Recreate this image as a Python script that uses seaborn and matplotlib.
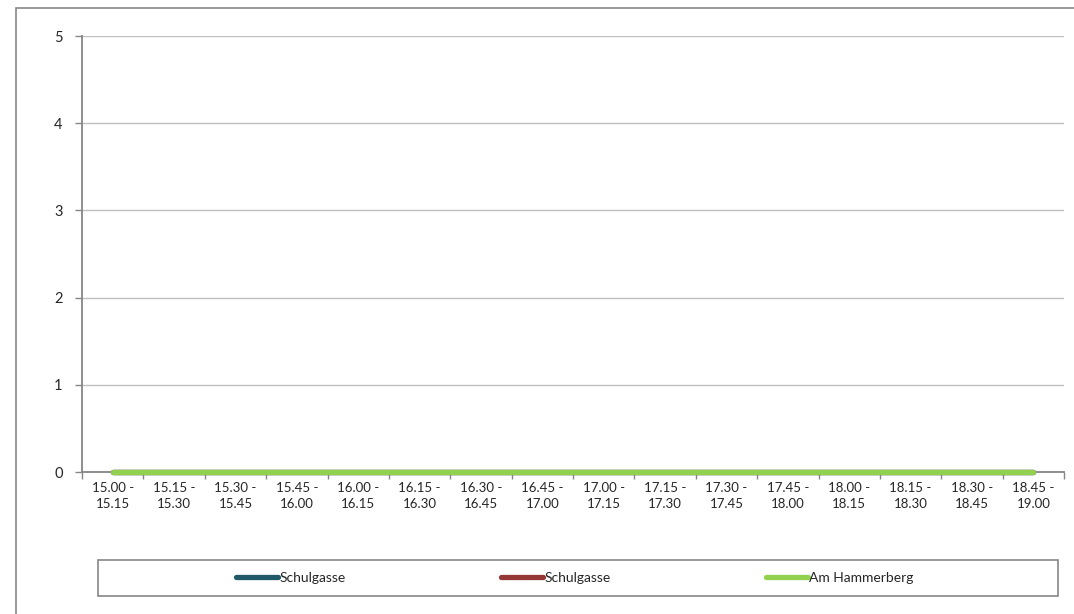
import numpy as np
import pandas as pd
import matplotlib
matplotlib.use("Agg")
import matplotlib.pyplot as plt
import seaborn as sns
from matplotlib.ticker import FixedLocator, NullFormatter

# Data
intervals = ["15.00 -\n15.15", "15.15 -\n15.30", "15.30 -\n15.45", "15.45 -\n16.00",
             "16.00 -\n16.15", "16.15 -\n16.30", "16.30 -\n16.45", "16.45 -\n17.00",
             "17.00 -\n17.15", "17.15 -\n17.30", "17.30 -\n17.45", "17.45 -\n18.00",
             "18.00 -\n18.15", "18.15 -\n18.30", "18.30 -\n18.45", "18.45 -\n19.00"]
schulgasse_1 = [0, 0, 0, 0, 0, 0, 0, 0, 0, 0, 0, 0, 0, 0, 0, 0]
schulgasse_2 = [0, 0, 0, 0, 0, 0, 0, 0, 0, 0, 0, 0, 0, 0, 0, 0]
am_hammerberg = [0, 0, 0, 0, 0, 0, 0, 0, 0, 0, 0, 0, 0, 0, 0, 0]
series_names = ["Schulgasse", "Schulgasse", "Am Hammerberg"]
colors = ["#215968", "#953735", "#92D050"]
y_ticks = [0, 1, 2, 3, 4, 5]

sns.set_style("white")
plt.rcParams["font.family"] = ["Lato", "DejaVu Sans"]

fig = plt.figure(figsize=(10.74, 6.14), dpi=100)
W, H = 1074, 614
ax = fig.add_axes([82 / W, 1 - 472 / H, (1064 - 82) / W, (472 - 36) / H])

# Outer chart border (only left and top visible)
fig.patches.append(plt.Rectangle((16 / W, -0.1), 1.2, 1 - 8 / H + 0.1, transform=fig.transFigure,
                                 fill=False, edgecolor="#868686", linewidth=1.2))

for vals, name, col in zip([schulgasse_1, schulgasse_2, am_hammerberg], series_names, colors):
    df = pd.DataFrame({"interval": intervals, "value": vals})
    sns.lineplot(data=df, x="interval", y="value", ax=ax, color=col, label=name,
                 linewidth=3.8, solid_capstyle="round", sort=False, clip_on=False, zorder=5)

ax.set_xlim(-0.5, len(intervals) - 0.5)
ax.set_ylim(0, 5)
ax.set_yticks(y_ticks)
ax.yaxis.grid(True, color="#BFBFBF", linewidth=1)
ax.xaxis.grid(False)
ax.set_axisbelow(True)
ax.set_xlabel("")
ax.set_ylabel("")

for s in ["top", "right"]:
    ax.spines[s].set_visible(False)
for s in ["left", "bottom"]:
    ax.spines[s].set_color("#868686")
    ax.spines[s].set_linewidth(1.3)
    ax.spines[s].set_zorder(1)

ax.tick_params(axis="y", which="major", direction="out", length=5, width=1, color="#868686",
               labelsize=10.5, pad=9, left=True)
ax.set_xticks(range(len(intervals)))
ax.set_xticklabels(intervals, linespacing=1.45)
ax.tick_params(axis="x", which="major", length=0, labelsize=9.5, pad=7)
ax.xaxis.set_minor_locator(FixedLocator(np.arange(-0.5, len(intervals), 1.0)))
ax.xaxis.set_minor_formatter(NullFormatter())
ax.tick_params(axis="x", which="minor", direction="out", length=5, width=1, color="#868686",
               bottom=True)

# Legend box
fig.patches.append(plt.Rectangle((98 / W, 1 - 596 / H), (1058 - 98) / W, 36 / H,
                                 transform=fig.transFigure, fill=False,
                                 edgecolor="#868686", linewidth=1.2))
ax.get_legend().remove()
leg = fig.legend(*ax.get_legend_handles_labels(), loc="center",
                 bbox_to_anchor=(575 / W, 1 - 578 / H), ncol=3, frameon=False,
                 fontsize=10, handlelength=3.0, handletextpad=0.1, columnspacing=11.2)

fig.savefig("out.png", dpi=100)
